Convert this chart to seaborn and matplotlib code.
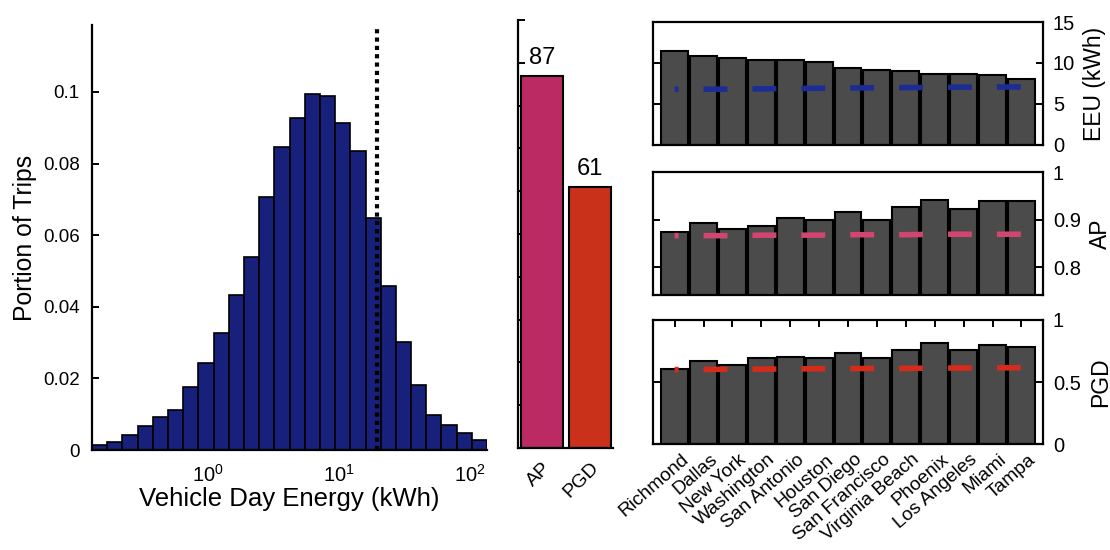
import numpy as np
import pandas as pd
import matplotlib
matplotlib.use("Agg")
import matplotlib.pyplot as plt
import matplotlib.transforms as mtransforms
import seaborn as sns

# ---------------- data ----------------
# histogram of vehicle-day energy (log-spaced bins, in log10 kWh)
bin_edges_log10 = list(np.linspace(-0.885, 2.13, 27))
hist_heights = [0.0014, 0.0023, 0.0042, 0.0067, 0.0093, 0.0112, 0.0177, 0.0242,
                0.0326, 0.0433, 0.0540, 0.0707, 0.0847, 0.0928, 0.0993, 0.0988,
                0.0913, 0.0835, 0.0647, 0.0458, 0.0302, 0.0181, 0.0098, 0.0070,
                0.0047, 0.0028]
threshold_kwh = 19.5

metrics = ["AP", "PGD"]
metric_values = [87, 61]

cities = ["Richmond", "Dallas", "New York", "Washington", "San Antonio", "Houston",
          "San Diego", "San Francisco", "Virginia Beach", "Phoenix", "Los Angeles",
          "Miami", "Tampa"]
eeu = [11.5, 10.8, 10.56, 10.36, 10.4, 10.16, 9.44, 9.2, 9.08, 8.64, 8.6, 8.56, 8.08]
ap = [0.8745, 0.8917, 0.8807, 0.886, 0.9034, 0.898, 0.915, 0.898, 0.926, 0.941,
      0.923, 0.938, 0.938]
pgd = [0.608, 0.668, 0.635, 0.695, 0.703, 0.695, 0.73, 0.695, 0.762, 0.816,
       0.757, 0.797, 0.784]
eeu_ref = [6.8, 6.8, 6.82, 6.85, 6.88, 6.92, 6.95, 6.98, 7.0, 7.02, 7.05, 7.07, 7.08]
ap_ref = [0.866, 0.866, 0.866, 0.867, 0.867, 0.867, 0.868, 0.868, 0.868, 0.869,
          0.869, 0.869, 0.869]
pgd_ref = [0.600, 0.601, 0.603, 0.604, 0.605, 0.607, 0.608, 0.609, 0.610, 0.612,
           0.613, 0.614, 0.615]

# ---------------- style ----------------
sns.set_theme(style="ticks")
plt.rcParams["font.family"] = ["Liberation Sans", "DejaVu Sans"]
plt.rcParams["mathtext.fontset"] = "custom"
plt.rcParams["mathtext.rm"] = "Liberation Sans"
plt.rcParams["axes.linewidth"] = 1.6
for k in ["text.color", "axes.labelcolor", "xtick.color", "ytick.color", "axes.edgecolor"]:
    plt.rcParams[k] = "black"

NAVY = "#17207a"
PINK = "#bb2a62"
RED = "#c9311b"
GRAY = "#4b4b4b"

fig = plt.figure(figsize=(11.1, 5.5), dpi=100)

# ---------------- histogram ----------------
ax_h = fig.add_axes([0.0829, 0.1818, 0.3559, 0.7727])
edges = np.array(bin_edges_log10)
centers_log = (edges[:-1] + edges[1:]) / 2
hdf = pd.DataFrame({"energy": 10 ** centers_log, "w": hist_heights})
sns.histplot(data=hdf, x="energy", weights="w", bins=bin_edges_log10, log_scale=True,
             color=NAVY, alpha=1, edgecolor="black", linewidth=1.2, ax=ax_h)
ax_h.axvline(threshold_kwh, color="black", linestyle=(0, (1, 1)), linewidth=3)
ax_h.set_xlim(10 ** edges[0], 10 ** edges[-1])
ax_h.set_ylim(0, 0.1187)
ax_h.set_yticks([0, 0.02, 0.04, 0.06, 0.08, 0.1])
ax_h.set_yticklabels(["0", "0.02", "0.04", "0.06", "0.08", "0.1"])
ax_h.set_xticks([1, 10, 100])
ax_h.xaxis.set_minor_locator(matplotlib.ticker.NullLocator())
ax_h.tick_params(direction="in", length=5, width=1.4, labelsize=13.5, pad=9)
ax_h.tick_params(axis="x", labelsize=14.5, pad=10)
ax_h.set_ylabel("Portion of Trips", fontsize=17.8, labelpad=4)
ax_h.set_xlabel("Vehicle Day Energy (kWh)", fontsize=18.5, labelpad=1)
sns.despine(ax=ax_h)

# ---------------- overall AP / PGD ----------------
ax_m = fig.add_axes([0.4667, 0.1855, 0.0856, 0.7782])
mdf = pd.DataFrame({"metric": metrics, "value": metric_values})
sns.barplot(data=mdf, x="metric", y="value", hue="metric", palette=[PINK, RED],
            legend=False, width=0.88, edgecolor="black", linewidth=1.5,
            saturation=1, ax=ax_m)
for cont in ax_m.containers:
    ax_m.bar_label(cont, fmt="%d", fontsize=17, padding=5)
ax_m.set_ylim(0, 100)
ax_m.set_xlim(-0.5, 1.48)
ax_m.set_yticks(np.arange(0, 101, 10))
ax_m.set_yticklabels([])
ax_m.tick_params(axis="y", direction="in", length=5, width=1.4)
ax_m.tick_params(axis="x", length=0, labelsize=14, pad=8)
for lab in ax_m.get_xticklabels():
    lab.set_rotation(45)
    lab.set_ha("right")
    lab.set_rotation_mode("anchor")
ax_m.set_xlabel("")
ax_m.set_ylabel("")
sns.despine(ax=ax_m)

# ---------------- city panels ----------------
panels = [
    (eeu, eeu_ref, "#1b2c95", (0, 15), [0, 5, 10, 15], ["0", "5", "10", "15"], "EEU (kWh)",
     [0.5883, 0.7364, 0.3514, 0.2236]),
    (ap, ap_ref, "#d2456f", (0.741, 1.0), [0.8, 0.9, 1.0], ["0.8", "0.9", "1"], "AP",
     [0.5883, 0.4636, 0.3514, 0.2236]),
    (pgd, pgd_ref, "#d62b1b", (0, 1), [0, 0.5, 1], ["0", "0.5", "1"], "PGD",
     [0.5883, 0.1927, 0.3514, 0.2255]),
]
pos = np.arange(len(cities))
for i, (vals, ref, rc, ylim, yt, ytl, ylab, rect) in enumerate(panels):
    ax = fig.add_axes(rect)
    cdf = pd.DataFrame({"city": cities, "v": vals})
    sns.barplot(data=cdf, x="city", y="v", color=GRAY, saturation=1, width=0.93,
                edgecolor="black", linewidth=1.5, ax=ax)
    sns.lineplot(x=pos, y=ref, color=rc, linewidth=4.0,
                 linestyle=(3.6, (4.3, 4.5)), ax=ax)
    ax.set_xlim(-0.75, 12.75)
    ax.set_ylim(*ylim)
    ax.set_yticks(yt)
    ax.set_yticklabels(ytl)
    ax.yaxis.tick_right()
    ax.yaxis.set_label_position("right")
    ax.tick_params(axis="y", direction="in", left=True, right=True, length=5,
                   width=1.4, labelsize=14.5, pad=7)
    ax.set_ylabel(ylab, fontsize=16.5, labelpad=6)
    ax.set_xlabel("")
    if i < 2:
        ax.tick_params(axis="x", bottom=False, top=False, labelbottom=False)
    else:
        ax.tick_params(axis="x", bottom=False, top=True, direction="in", length=5,
                       width=1.4, labelsize=13.8, pad=5)
        shift = mtransforms.ScaledTranslation(6 / 100, 0, fig.dpi_scale_trans)
        for lab in ax.get_xticklabels():
            lab.set_rotation(41)
            lab.set_ha("right")
            lab.set_rotation_mode("anchor")
            lab.set_transform(lab.get_transform() + shift)
    for s in ax.spines.values():
        s.set_visible(True)

fig.savefig("out.png", dpi=100)
